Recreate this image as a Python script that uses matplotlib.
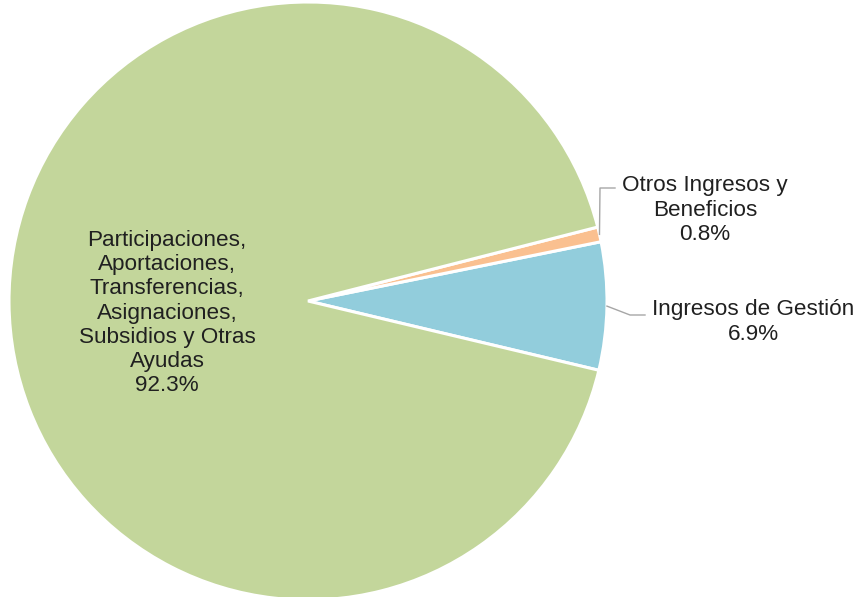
import numpy as np
import matplotlib.pyplot as plt

labels = ['Ingresos de Gestión', 'Otros Ingresos y\nBeneficios',
          'Participaciones,\nAportaciones,\nTransferencias,\nAsignaciones,\nSubsidios y Otras\nAyudas']
shares = [6.9, 0.8, 92.3]
colors = ['#92CDDC', '#FAC090', '#C3D69B']

W, H = 863, 597
plt.rcParams['font.family'] = ['Liberation Sans', 'DejaVu Sans']

fig = plt.figure(figsize=(W / 100, H / 100), dpi=100)
ax = fig.add_axes([0, 0, 1, 1])

cx, cy, r = 308, H - 301, 299
wedges, _ = ax.pie(shares, colors=colors, startangle=-13.4, counterclock=True,
                   center=(cx, cy), radius=r, frame=True,
                   wedgeprops=dict(edgecolor='white', linewidth=2.2))
ax.set_xlim(0, W)
ax.set_ylim(0, H)
ax.set_aspect('equal')
ax.axis('off')

txt = dict(ha='center', va='center', fontsize=16.2, color='#202020', linespacing=1.2)


def edge_point(w):
    a = np.deg2rad((w.theta1 + w.theta2) / 2)
    return cx + r * np.cos(a), cy + r * np.sin(a)


# Ingresos de Gestión
px, py = edge_point(wedges[0])
ax.plot([px, 630, 645], [py, H - 315, H - 315], color='#A6A6A6', lw=1)
ax.text(753, H - 322, f'{labels[0]}\n{shares[0]}%', **txt)

# Otros Ingresos y Beneficios
px, py = edge_point(wedges[1])
ax.plot([px, 600, 615], [py, H - 188, H - 188], color='#A6A6A6', lw=1)
ax.text(705, H - 210, f'{labels[1]}\n{shares[1]}%', **txt)

# big slice
ax.text(167, H - 313, f'{labels[2]}\n{shares[2]}%', **txt)

fig.savefig('out.png', dpi=100)
